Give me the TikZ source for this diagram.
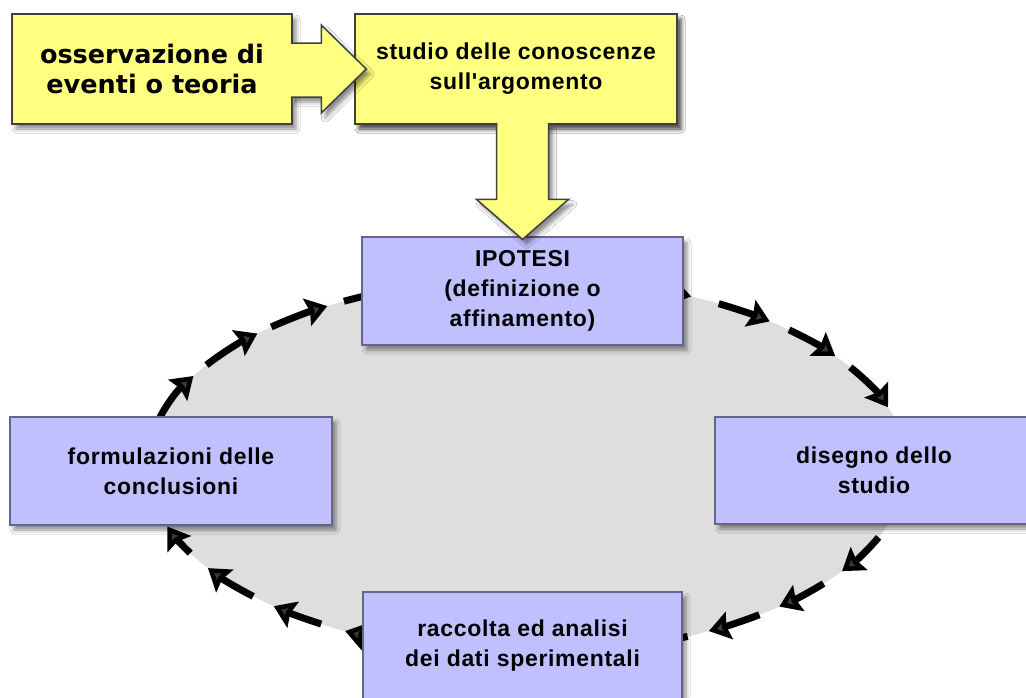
\documentclass[tikz,border=0pt]{standalone}
\usepackage{fontspec}
\newfontfamily\boxfont[LetterSpace=3]{Liberation Sans}
\newfontfamily\ossfont{DejaVu Sans}
\usetikzlibrary{arrows.meta,calc,shadows.blur}
\definecolor{boxyellow}{RGB}{255,255,128}
\definecolor{boxlilac}{RGB}{192,192,255}
\definecolor{lilacframe}{RGB}{100,100,140}
\definecolor{ringgray}{RGB}{222,222,222}
\pgfdeclarelayer{background}
\pgfsetlayers{background,main}
\tikzset{
  softshadow/.style={blur shadow={shadow xshift=4pt, shadow yshift=-5pt, shadow blur radius=4pt, shadow opacity=45}},
  yellowbox/.style={draw=black!75, line width=1.5pt, fill=boxyellow, softshadow},
  lilacbox/.style={draw=lilacframe, line width=1.2pt, fill=boxlilac, softshadow, inner sep=0pt, align=center,
    font=\boxfont\bfseries\fontsize{23}{30}\selectfont},
  roundarrow/.style={line width=7pt, -{Stealth[length=21pt,width=28pt,inset=3pt]}}
}
\begin{document}
\begin{tikzpicture}[x=1pt, y=-1pt]
    \useasboundingbox (0,0) rectangle (1026,697);

    \node[yellowbox, minimum width=280pt, minimum height=110pt, align=center, font=\ossfont\bfseries\fontsize{25.5}{30}\selectfont] (oss) at (152,69) {osservazione di\\eventi o teoria};
    \node[lilacbox, yellowbox, minimum width=322pt, minimum height=110pt] (studio) at (516,69) {studio delle conoscenze\\sull'argomento};

    \node[lilacbox, minimum width=321pt, minimum height=108pt] (ipotesi) at (522.5,291) {IPOTESI\\(definizione o\\affinamento)};
    \node[lilacbox, minimum width=318pt, minimum height=107pt] (disegno) at (874,470.5) {disegno dello\\studio};
    \node[lilacbox, minimum width=319pt, minimum height=108pt] (raccolta) at (522.5,646) {raccolta ed analisi\\dei dati sperimentali};
    \node[lilacbox, minimum width=322pt, minimum height=108pt] (concl) at (171,471) {formulazioni delle\\conclusioni};

    % block arrows
    \coordinate (rtip) at ($(studio.west)+(12,0)$);
    \filldraw[yellowbox] ($(oss.east)+(-2,-26)$) -- ($(rtip)+(-45,-26)$) -- ($(rtip)+(-45,-44)$) -- (rtip)
        -- ($(rtip)+(-45,44)$) -- ($(rtip)+(-45,28)$) -- ($(oss.east)+(-2,28)$);
    \coordinate (dtip) at ($(ipotesi.north)+(0,3)$);
    \filldraw[yellowbox] ($(dtip |- studio.south)+(-26,-2)$) -- ($(dtip)+(-26,-40)$) -- ($(dtip)+(-46,-40)$) -- (dtip)
        -- ($(dtip)+(46,-40)$) -- ($(dtip)+(26,-40)$) -- ($(dtip |- studio.south)+(26,-2)$);

    % cycle of dashed arrows
    \coordinate (ring) at (527,466);
    \begin{pgfonlayer}{background}
        \fill[white] (0,0) rectangle (1026,697);
        \fill[ringgray] (ring) ellipse [x radius=380, y radius=188];
        \foreach \from/\to in {-80/-64.4, -59.7/-50.3, -46.4/-35.8, -31.7/-18.2,
                               22.3/34, 38.7/48.4, 52.3/61.4, 65/76,
                               106/118.6, 122.8/131.8, 136.1/147.1, 152.4/161.2,
                               192/208.6, 212.5/224.8, 227.7/238.3, 241.2/253}
            \draw[roundarrow] ($(ring)+(\from:380 and 188)$) arc [start angle=\from, end angle=\to, x radius=380, y radius=188];
    \end{pgfonlayer}
\end{tikzpicture}
\end{document}
